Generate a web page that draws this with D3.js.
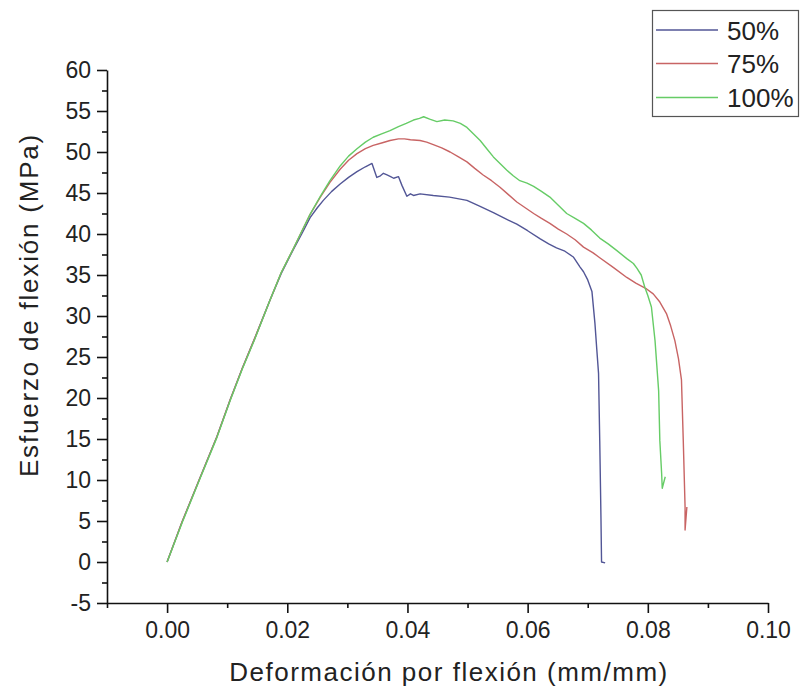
<!DOCTYPE html>
<html>
<head>
<meta charset="utf-8">
<script src="https://cdn.jsdelivr.net/npm/d3@7"></script>
<style>
  body { margin: 0; background: #fff; }
  svg { display: block; font-family: "Liberation Sans", Arial, sans-serif; }
</style>
</head>
<body>
<svg id="chart" width="800" height="688"></svg>
<script>
// curves: [strain, stress]
var seriesNames = ["50%", "75%", "100%"];
var seriesColors = ["#525696", "#c86464", "#66cc66"];

var data50 = [
  [0, 0], [0.0025, 4.9], [0.0055, 10.3], [0.0083, 15.3], [0.0105, 19.8], [0.0125, 23.6],
  [0.0146, 27.3], [0.0171, 31.9], [0.0190, 35.2], [0.0210, 38.1], [0.0224, 40.0],
  [0.0238, 42.0], [0.0250, 43.2], [0.0260, 44.1], [0.0274, 45.2], [0.0288, 46.1],
  [0.0302, 46.9], [0.0316, 47.6], [0.0330, 48.2], [0.0341, 48.6], [0.0349, 46.9],
  [0.0355, 47.1], [0.0360, 47.4], [0.0366, 47.2], [0.0372, 47.0], [0.0377, 46.8],
  [0.0385, 47.0], [0.0391, 45.9], [0.0399, 44.6], [0.0405, 44.9], [0.0410, 44.7],
  [0.0421, 44.9], [0.0443, 44.7], [0.0470, 44.5], [0.0499, 44.1], [0.0520, 43.4],
  [0.0543, 42.6], [0.0562, 41.9], [0.0582, 41.2], [0.0600, 40.4], [0.0621, 39.4],
  [0.0635, 38.8], [0.0648, 38.3], [0.0662, 37.9], [0.0676, 37.2], [0.0687, 36.0],
  [0.0693, 35.4], [0.0700, 34.4], [0.0707, 33.0], [0.0712, 29.1], [0.0715, 26.0],
  [0.0718, 23.0], [0.0720, 14.8], [0.0722, 5.5], [0.0723, 0], [0.0729, -0.1]
];

var data75 = [
  [0, 0], [0.0025, 4.9], [0.0055, 10.3], [0.0083, 15.3], [0.0105, 19.8], [0.0125, 23.6],
  [0.0146, 27.3], [0.0171, 31.9], [0.0190, 35.3], [0.0210, 38.2], [0.0224, 40.3],
  [0.0238, 42.4], [0.0255, 44.5], [0.0271, 46.3], [0.0288, 47.9], [0.0302, 49.0],
  [0.0316, 49.8], [0.0330, 50.4], [0.0343, 50.8], [0.0357, 51.1], [0.0371, 51.4],
  [0.0385, 51.6], [0.0395, 51.6], [0.0405, 51.5], [0.0421, 51.4], [0.0432, 51.2],
  [0.0443, 50.9], [0.0457, 50.5], [0.0471, 50.0], [0.0485, 49.4], [0.0499, 48.8],
  [0.0512, 48.0], [0.0526, 47.2], [0.0540, 46.5], [0.0554, 45.7], [0.0568, 44.8],
  [0.0582, 43.9], [0.0596, 43.2], [0.0610, 42.5], [0.0623, 41.9], [0.0637, 41.3],
  [0.0651, 40.6], [0.0665, 40.0], [0.0679, 39.3], [0.0693, 38.4], [0.0709, 37.7],
  [0.0720, 37.1], [0.0743, 35.9], [0.0765, 34.7], [0.0780, 34.0], [0.0798, 33.3],
  [0.0809, 32.7], [0.0820, 31.7], [0.0831, 30.3], [0.0838, 28.8], [0.0845, 27.0],
  [0.0851, 24.8], [0.0856, 22.2], [0.0859, 14.8], [0.0862, 6.7], [0.0862, 3.9],
  [0.0865, 6.7]
];

var data100 = [
  [0, 0], [0.0025, 4.8], [0.0055, 10.2], [0.0083, 15.2], [0.0105, 19.7], [0.0125, 23.5],
  [0.0146, 27.2], [0.0171, 31.9], [0.0190, 35.3], [0.0210, 38.2], [0.0224, 40.3],
  [0.0238, 42.4], [0.0255, 44.6], [0.0271, 46.5], [0.0288, 48.3], [0.0302, 49.5],
  [0.0316, 50.4], [0.0330, 51.2], [0.0343, 51.8], [0.0357, 52.2], [0.0371, 52.6],
  [0.0385, 53.1], [0.0398, 53.5], [0.0410, 53.9], [0.0420, 54.1], [0.0427, 54.3],
  [0.0437, 54.0], [0.0449, 53.7], [0.0462, 53.9], [0.0476, 53.8], [0.0488, 53.5],
  [0.0499, 53.0], [0.0510, 52.2], [0.0521, 51.4], [0.0532, 50.4], [0.0543, 49.4],
  [0.0554, 48.6], [0.0565, 47.8], [0.0576, 47.1], [0.0587, 46.5], [0.0599, 46.2],
  [0.0610, 45.8], [0.0623, 45.2], [0.0637, 44.5], [0.0651, 43.5], [0.0665, 42.5],
  [0.0679, 41.9], [0.0693, 41.3], [0.0706, 40.5], [0.0720, 39.5], [0.0734, 38.8],
  [0.0748, 38.0], [0.0765, 37.0], [0.0776, 36.4], [0.0782, 35.8], [0.0789, 35.0],
  [0.0795, 33.5], [0.0800, 32.5], [0.0806, 31.1], [0.0812, 27.0], [0.0818, 20.9],
  [0.0820, 14.8], [0.0823, 10.8], [0.0824, 9.0], [0.0829, 10.4]
];

var xMajorTicks = [0, 0.02, 0.04, 0.06, 0.08, 0.10];
var xMinorTicks = [-0.01, 0.01, 0.03, 0.05, 0.07, 0.09];
var yMajorTicks = [-5, 0, 5, 10, 15, 20, 25, 30, 35, 40, 45, 50, 55, 60];
var yMinorTicks = [-2.5, 2.5, 7.5, 12.5, 17.5, 22.5, 27.5, 32.5, 37.5, 42.5, 47.5, 52.5, 57.5];

var xTitle = "Deformación por flexión (mm/mm)";
var yTitle = "Esfuerzo de flexión (MPa)";

var svg = d3.select("#chart");

var x = d3.scaleLinear().domain([-0.01, 0.10]).range([107, 768]);
var y = d3.scaleLinear().domain([-5, 60]).range([603, 70]);

// minor ticks first, majors on top
svg.append("g")
  .attr("transform", "translate(0,603)")
  .call(d3.axisBottom(x).tickValues(xMinorTicks).tickSize(5).tickSizeOuter(0).tickFormat(""))
  .call(function(g) { g.select(".domain").remove(); });
svg.append("g")
  .attr("transform", "translate(107,0)")
  .call(d3.axisLeft(y).tickValues(yMinorTicks).tickSize(5).tickSizeOuter(0).tickFormat(""))
  .call(function(g) { g.select(".domain").remove(); });

var xAxis = svg.append("g")
  .attr("class", "axis")
  .attr("transform", "translate(0,603)")
  .call(d3.axisBottom(x).tickValues(xMajorTicks).tickSize(10).tickSizeOuter(0).tickPadding(9)
    .tickFormat(d3.format(".2f")));

var yAxis = svg.append("g")
  .attr("class", "axis")
  .attr("transform", "translate(107,0)")
  .call(d3.axisLeft(y).tickValues(yMajorTicks).tickSize(10).tickSizeOuter(0).tickPadding(6)
    .tickFormat(function(d) { return String(d); }));

svg.selectAll(".tick line").attr("stroke", "#111").attr("stroke-width", 1.6);
svg.selectAll(".domain").attr("stroke", "#111").attr("stroke-width", 1.6);
svg.selectAll(".axis text")
  .attr("font-family", "Liberation Sans, Arial, sans-serif")
  .attr("font-size", 23)
  .attr("fill", "#222");

// curves
var line = d3.line()
  .x(function(d) { return x(d[0]); })
  .y(function(d) { return y(d[1]); });

var allSeries = [data50, data75, data100];
allSeries.forEach(function(s, i) {
  svg.append("path")
    .datum(s)
    .attr("d", line)
    .attr("fill", "none")
    .attr("stroke", seriesColors[i])
    .attr("stroke-width", 1.4)
    .attr("stroke-linejoin", "round");
});

// axis titles
svg.append("text")
  .attr("x", 449)
  .attr("y", 681)
  .attr("text-anchor", "middle")
  .attr("font-size", 26)
  .attr("letter-spacing", 1.5)
  .attr("fill", "#222")
  .text(xTitle);

svg.append("text")
  .attr("transform", "translate(38,305) rotate(-90)")
  .attr("text-anchor", "middle")
  .attr("font-size", 26)
  .attr("letter-spacing", 1.8)
  .attr("fill", "#222")
  .text(yTitle);

// legend
var legend = svg.append("g");
legend.append("rect")
  .attr("x", 652.5).attr("y", 10.5)
  .attr("width", 146).attr("height", 106)
  .attr("fill", "#fff")
  .attr("stroke", "#555")
  .attr("stroke-width", 1.2);

var rowY = [30, 63.5, 97.5];
seriesNames.forEach(function(name, i) {
  legend.append("line")
    .attr("x1", 656).attr("x2", 718)
    .attr("y1", rowY[i]).attr("y2", rowY[i])
    .attr("stroke", seriesColors[i])
    .attr("stroke-width", 1.4);
  legend.append("text")
    .attr("x", 727)
    .attr("y", rowY[i] + 9.5)
    .attr("font-size", 26)
    .attr("fill", "#222")
    .text(name);
});
</script>
</body>
</html>
